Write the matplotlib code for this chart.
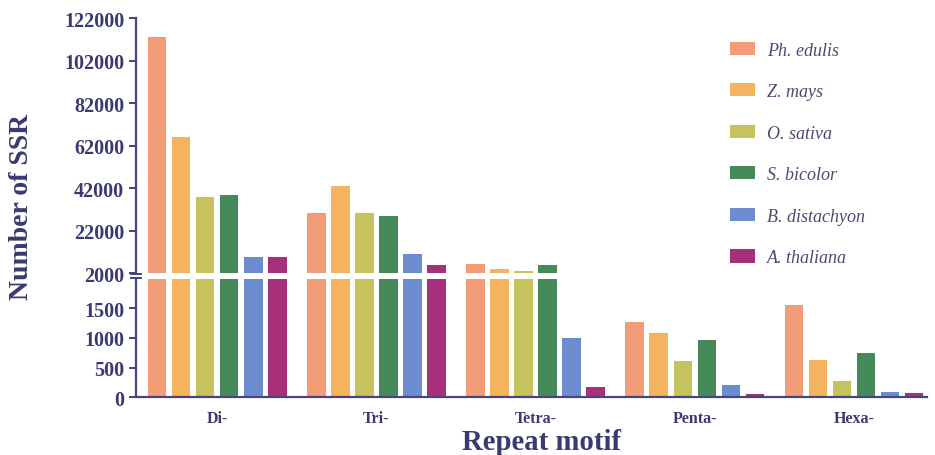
import numpy as np
import matplotlib.pyplot as plt

#data
motifs = ['Di-', 'Tri-', 'Tetra-', 'Penta-', 'Hexa-']
species = ['Ph. edulis', 'Z. mays', 'O. sativa', 'S. bicolor', 'B. distachyon', 'A. thaliana']
ph_edulis = [113000, 30200, 6200, 1273, 1559]
z_mays = [66000, 43200, 4000, 1088, 633]
o_sativa = [38000, 30500, 3200, 616, 274]
s_bicolor = [38700, 29100, 5800, 960, 740]
b_distachyon = [9800, 10900, 1003, 202, 94]
a_thaliana = [9800, 6000, 178, 55, 72]
series = [ph_edulis, z_mays, o_sativa, s_bicolor, b_distachyon, a_thaliana]

upper_ticks = [2000, 22000, 42000, 62000, 82000, 102000, 122000]
lower_ticks = [0, 500, 1000, 1500]

#styling
colors = ['#F29D78', '#F5B25F', '#C6C25E', '#468A59', '#6D8BCF', '#A8307A']
axis_color = '#45457F'
text_color = '#3A3A72'
bar_step = 0.151 #distance between bars inside a group
bar_width = 0.115

plt.rcParams['font.family'] = ['Liberation Serif', 'DejaVu Serif']

fig = plt.figure(figsize=(9.35, 4.56), dpi=100)
left, width = 136 / 935, 791 / 935
ax_top = fig.add_axes([left, 1 - 274.3 / 456, width, 255 / 456])
ax_bot = fig.add_axes([left, 1 - 398.3 / 456, width, 118.8 / 456])

x = np.arange(len(motifs))
for ax in (ax_top, ax_bot):
    for j, (vals, c) in enumerate(zip(series, colors)):
        ax.bar(x + (j - 2.5) * bar_step, vals, width=bar_width, color=c,
               label=species[j], zorder=2)
    ax.set_xlim(-0.511, 4.46)
    for side in ('top', 'right'):
        ax.spines[side].set_visible(False)
    ax.spines['left'].set_color(axis_color)
    ax.spines['left'].set_linewidth(1.6)
    ax.tick_params(axis='y', colors=axis_color, width=1.4, length=5,
                   labelsize=14.5, labelcolor=text_color)

#upper part of the broken axis
ax_top.set_ylim(2000, 122000)
ax_top.set_yticks(upper_ticks)
ax_top.set_yticklabels([str(v) for v in upper_ticks], fontweight='bold')
ax_top.spines['bottom'].set_visible(False)
ax_top.set_xticks([])

#lower part
ax_bot.set_ylim(0, 2000)
ax_bot.set_yticks(lower_ticks)
ax_bot.set_yticklabels([str(v) for v in lower_ticks], fontweight='bold')
ax_bot.spines['bottom'].set_color(axis_color)
ax_bot.spines['bottom'].set_linewidth(1.6)
ax_bot.set_xticks(x)
ax_bot.set_xticklabels(motifs, fontsize=11.5, fontweight='bold', color=text_color)
ax_bot.tick_params(axis='x', length=0, pad=9)

#break marks on the y axis
kw = dict(color=axis_color, lw=1.4, clip_on=False, transform=fig.transFigure)
fig.add_artist(plt.Line2D([131 / 935, 141 / 935], [1 - 274.8 / 456] * 2, **kw))
fig.add_artist(plt.Line2D([131 / 935, 141 / 935], [1 - 279.0 / 456] * 2, **kw))

fig.text(541 / 935, 1 - 450 / 456, 'Repeat motif', fontsize=20.7,
         fontweight='bold', color=text_color, ha='center', va='baseline')
fig.text(22 / 935, 1 - 207 / 456, 'Number of SSR', rotation=90, fontsize=20,
         fontweight='bold', color=text_color, ha='center', va='center')

leg = ax_top.legend(loc='upper left', bbox_to_anchor=(730 / 935, 1 - 42.5 / 456),
                    bbox_transform=fig.transFigure, frameon=False, borderpad=0,
                    borderaxespad=0, handlelength=1.4, handleheight=0.75,
                    handletextpad=0.65, labelspacing=1.36,
                    prop={'style': 'italic', 'size': 13})
for t in leg.get_texts():
    t.set_color('#4A4A72')

fig.savefig('out.png', dpi=100)
